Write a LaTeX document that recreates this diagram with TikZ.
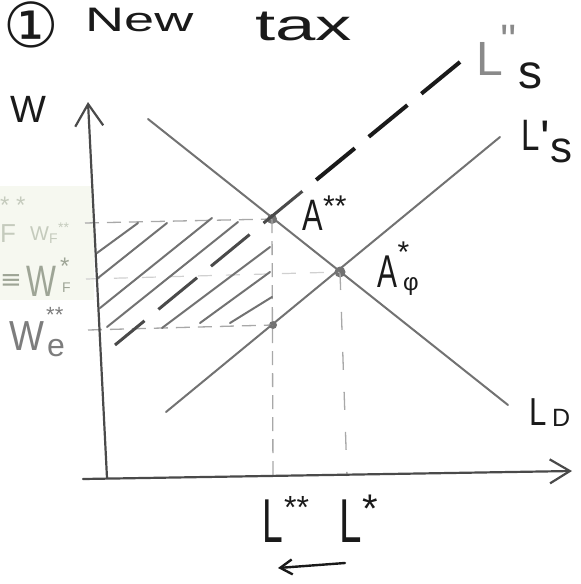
\documentclass[tikz,border=0pt]{standalone}
\usepackage{fontspec}
\setmainfont{Liberation Sans}
\newfontfamily\djv{DejaVu Sans}
\usetikzlibrary{arrows.meta}
\newcommand\hfs[1]{\fontsize{#1}{#1}\selectfont}
\definecolor{axisgray}{HTML}{4A4A4A}
\definecolor{curvegray}{HTML}{727272}
\definecolor{dashgray}{HTML}{A8A8A8}
\definecolor{faintgray}{HTML}{D0D0D0}
\definecolor{fadeA}{HTML}{C5CBBD}
\definecolor{fadeB}{HTML}{9EA596}
\definecolor{fadeC}{HTML}{7D7D7D}
\definecolor{inkblack}{HTML}{1A1A1A}
\definecolor{lgray}{HTML}{8A8A8A}
\definecolor{patchgreen}{HTML}{F6F8F0}
\begin{document}
\begin{tikzpicture}[x=1pt,y=-1pt,
  axisline/.style={draw=axisgray, line width=2.2pt, line cap=round},
  curve/.style={draw=curvegray, line width=2pt, line cap=round},
  refdash/.style={draw=dashgray, line width=1.3pt, dash pattern=on 14pt off 8pt},
  hatch/.style={draw=curvegray, line width=2pt, line cap=round},
  dot/.style={circle, fill=curvegray, inner sep=0pt, minimum size=#1},
  ink/.style={text=inkblack, inner sep=0pt},
  fade/.style={text=#1, inner sep=0pt},
]
\useasboundingbox (0,0) rectangle (581,584);
\fill[patchgreen] (0,186) rectangle (94,300);

% key points
\coordinate (yTop) at (88,102);
\coordinate (orig) at (107,478);
\coordinate (xLeft) at (83,479);
\coordinate (xEnd) at (572,471);
\coordinate (dTop) at (148,119);
\coordinate (dBot) at (508,405);
\coordinate (sLow) at (166,412);
\coordinate (sTop) at (500,137);
\coordinate (ssTop) at (460,62);
\coordinate (ssMid) at (302.2,191.4);
\coordinate (ssLow) at (115,345);
\coordinate (tickTop) at (85,223);
\coordinate (tickMid) at (86,279);
\coordinate (tickLow) at (88,330);
\coordinate (footA) at (273,478);
\coordinate (footB) at (347,476);
\coordinate (arR) at (345,563);
\coordinate (arL) at (278,568);

\node[dot=10pt] (Ass) at (272,219) {};
\node[dot=11pt] (A0) at (340,272) {};
\node[dot=8pt] (Alow) at (273,325) {};

% reference dashed lines
\draw[refdash] (tickTop) -- (Ass.center);
\draw[refdash] (Ass.center) -- (footA);
\draw[draw=dashgray, line width=1.3pt, dash pattern=on 18pt off 22pt] (A0.center) -- (footB);
\draw[draw=faintgray, line width=1.2pt, dash pattern=on 14pt off 14pt] (tickMid) -- (A0.center);
\draw[refdash] (tickLow) -- (Alow.center);

% hatching
\draw[hatch] (97,253) -- (138,223);
\draw[hatch] (98,278) -- (167,223);
\draw[hatch] (100,308) -- (212,218);
\draw[hatch] (107,327) -- (238,222);
\draw[hatch] (162,328) -- (270,247);
\draw[hatch] (200,323) -- (270,272);
\draw[hatch] (230,323) -- (272,297);

% axes
\draw[axisline, -{Straight Barb[length=22pt,width=28pt]}] (orig) -- (yTop);
\draw[axisline, -{Straight Barb[length=20pt,width=24pt]}] (xLeft) -- (xEnd);

% curves
\draw[curve] (dTop) -- (dBot);
\draw[curve] (sLow) -- (sTop);
\draw[draw=inkblack, line width=4pt, dash pattern=on 50pt off 18pt] (ssTop) -- (ssMid);
\draw[draw=axisgray, line width=3pt, dash pattern=on 50pt off 18pt] (ssMid) -- (ssLow);

% arrow under axis
\draw[draw=inkblack, line width=2.4pt, line cap=round, -{Straight Barb[length=12pt,width=15pt]}] (arR) -- (arL);

% title
\node[ink, anchor=center, font=\djv\hfs{62}] (one) at (31,25) {①};
\node[ink, anchor=base west, font=\hfs{34}] (tNew) at (85,31) {\scalebox{1.59}[1]{New}};
\node[ink, anchor=base west, font=\hfs{44}] (tTax) at (255,40) {\scalebox{1.65}[1]{tax}};

% axis label
\node[ink, anchor=base west, font=\hfs{38}] (lW) at (10,122) {W};

% point labels
\node[ink, anchor=base west, font=\hfs{44}] (lA2) at (302,230) {\scalebox{0.7}[1]{A}};
\node[ink, anchor=base west, font=\hfs{30}] (lA2s) at (323,216) {**};
\node[ink, anchor=base west, font=\hfs{46}] (lA0) at (377,287) {\scalebox{0.65}[1]{A}};
\node[ink, anchor=base west, font=\hfs{30}] (lA0s) at (397.5,262) {*};
\node[ink, anchor=base west, font=\hfs{24}] (lA0b) at (403,290) {φ};

% curve labels
\node[ink, anchor=base west, font=\hfs{44}] (lLs1) at (521,150) {\scalebox{0.75}[1]{L}};
\node[ink, anchor=base west, font=\hfs{50}] (lLs1p) at (540,155) {\textquotesingle};
\node[ink, anchor=base west, font=\hfs{44}] (lLs1s) at (550,162) {s};
\node[fade=lgray, anchor=base west, font=\hfs{48}] (lLs2) at (476,75) {L};
\node[fade=lgray, anchor=base west, font=\hfs{44}] (lLs2p) at (500,55) {\textquotesingle\textquotesingle};
\node[ink, anchor=base west, font=\hfs{48}] (lLs2s) at (518,88) {s};
\node[ink, anchor=base west, font=\hfs{39}] (lLD) at (529,425) {\scalebox{0.8}[1]{L}};
\node[ink, anchor=base west, font=\hfs{25}] (lLDs) at (552,426) {D};

% x-axis labels
\node[ink, anchor=base west, font=\hfs{62}] (lL2) at (262,542) {\scalebox{0.6}[1]{L}};
\node[ink, anchor=base west, font=\hfs{32}] (lL2s) at (284,518) {**};
\node[ink, anchor=base west, font=\hfs{62}] (lL1) at (339,542) {\scalebox{0.65}[1]{L}};
\node[ink, anchor=base west, font=\hfs{40}] (lL1s) at (362,522) {*};

% faded wage labels
\node[fade=fadeA, anchor=base west, font=\hfs{24}] (lF1s) at (0,213) {* *};
\node[fade=fadeA, anchor=base west, font=\hfs{26}] (lF1) at (0,242) {F};
\node[fade=fadeA, anchor=base west, font=\hfs{20}] (lF1w) at (30,240) {W\textsubscript{F}\textsuperscript{**}};
\node[fade=fadeB, anchor=base west, font=\djv\hfs{26}] (lEq) at (0,288) {≡};
\node[fade=fadeB, anchor=base west, font=\hfs{44}] (lWF) at (26,296) {\scalebox{0.72}[1]{W}};
\node[fade=fadeB, anchor=base west, font=\hfs{24}] (lWFs) at (60,274) {*};
\node[fade=fadeB, anchor=base west, font=\hfs{14}] (lWFb) at (62,292) {F};
\node[fade=fadeC, anchor=base west, font=\hfs{42}] (lWe) at (9,350) {\scalebox{0.88}[1]{W}};
\node[fade=fadeC, anchor=base west, font=\hfs{22}] (lWes) at (46,322) {**};
\node[fade=fadeC, anchor=base west, font=\hfs{32}] (lWeb) at (47,356) {e};
\end{tikzpicture}
\end{document}
